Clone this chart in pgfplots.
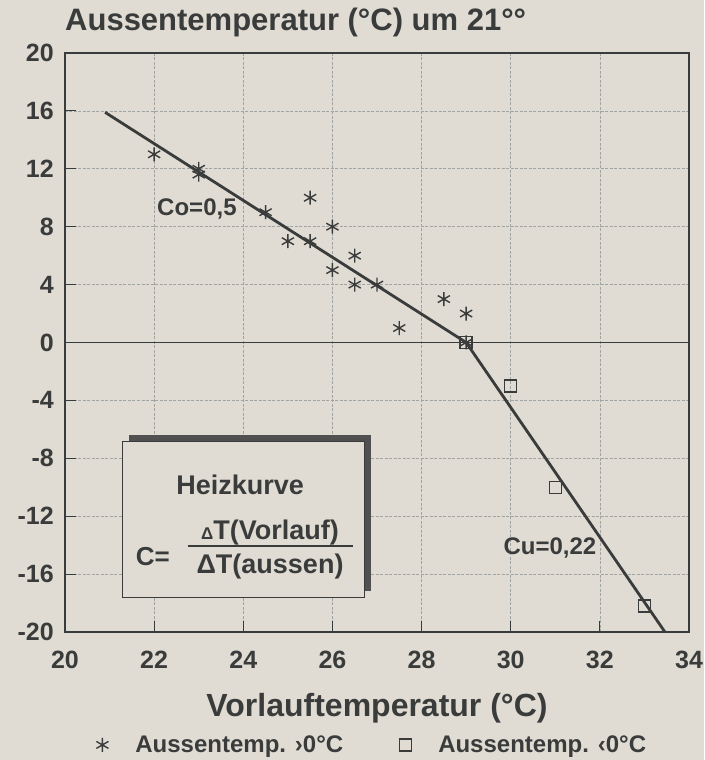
\documentclass[border=0pt]{standalone}
\usepackage{fontspec}
\setmainfont{Liberation Sans}
\usepackage{pgfplots}
\pgfplotsset{compat=1.18}
\definecolor{paper}{RGB}{224,220,211}
\definecolor{ink}{RGB}{58,60,60}
\definecolor{gridc}{RGB}{160,164,162}
\definecolor{shadowc}{RGB}{80,80,80}
\begin{document}
\bfseries
\begin{tikzpicture}
\path[use as bounding box, fill=paper] (-65pt,-128pt) rectangle (639pt,632pt);
\begin{axis}[
  at={(0,0)}, anchor=south west,
  scale only axis, width=624pt, height=579pt,
  xmin=20, xmax=34, ymin=-20, ymax=20,
  xtick={20,22,...,34}, ytick={-20,-16,...,20},
  xticklabels={20,22,24,26,28,30,32,34},
  yticklabels={-20,-16,-12,-8,-4,0,4,8,12,16,20},
  /pgf/number format/assume math mode=true,
  axis line style={draw=ink, line width=1.5pt},
  tick style={draw=ink, line width=1pt},
  tick align=inside, major tick length=11pt,
  xtick pos=bottom, ytick pos=left,
  grid=major,
  major grid style={draw=gridc, line width=0.6pt, dash pattern=on 3pt off 1.5pt},
  xticklabel style={anchor=center, yshift=-28pt, font=\fontsize{25}{25}\selectfont\bfseries, text=ink},
  yticklabel style={anchor=east, inner sep=0pt, xshift=-11pt, font=\fontsize{25}{25}\selectfont\bfseries, text=ink},
  title={Aussentemperatur (°C) um 21°°},
  title style={at={(0,1)}, anchor=base west, yshift=16pt, inner sep=0pt, font=\fontsize{31}{31}\selectfont\bfseries, text=ink},
  xlabel={Vorlauftemperatur (°C)},
  xlabel style={at={(axis description cs:0.5,0)}, anchor=center, yshift=-76pt, font=\fontsize{32}{32}\selectfont\bfseries, text=ink},
  legend style={at={(0.494,-0.195)}, anchor=center, draw=none, fill=none,
    font=\fontsize{24}{24}\selectfont\bfseries, text=ink,
    legend columns=2, /tikz/every even column/.append style={column sep=50pt},
    nodes={inner sep=5pt}},
  legend cell align=left,
  legend image code/.code={\path[draw=none,fill=none] (-7pt,-5pt) rectangle (28pt,5pt); \draw[#1] plot coordinates {(0pt,0pt)};},
]
\addplot[ink, line width=1.3pt, forget plot] coordinates {(20,0) (34,0)};
\addplot[ink, line width=2.8pt, forget plot] coordinates {(20.9,15.9) (29,0) (33.46,-20)};

\addplot[only marks, mark=asterisk, mark size=7pt, draw=ink, mark options={line width=1.4pt}] coordinates {
  (22,13) (23,12) (23,11.6) (24.5,9) (25,7) (25.5,10) (25.5,7) (26,8) (26,5)
  (26.5,6) (26.5,4) (27,4) (27.5,1) (28.5,3) (29,2) (29,0)
};
\addlegendentry{Aussentemp. ›0°C}
\addplot[only marks, mark=square, mark size=6pt, draw=ink, mark options={line width=1.4pt}] coordinates {
  (29,0) (30,-3) (31,-10) (33,-18.2)
};
\addlegendentry{Aussentemp. ‹0°C}

\node[font=\fontsize{24}{24}\selectfont\bfseries, text=ink] at (axis cs:22.96,9.22) {Co=0,5};
\node[font=\fontsize{24}{24}\selectfont\bfseries, text=ink] at (axis cs:30.88,-14.2) {Cu=0,22};

\fill[shadowc] (axis cs:21.43,-6.39) rectangle (axis cs:26.87,-17.17);
\filldraw[fill=paper, draw=ink, line width=1pt] (axis cs:21.30,-6.87) rectangle (axis cs:26.73,-17.65);
\node[font=\fontsize{27}{27}\selectfont\bfseries, text=ink] at (axis cs:23.93,-9.84) {Heizkurve};
\node[font=\fontsize{26}{26}\selectfont\bfseries, text=ink] at (axis cs:21.97,-14.82) {C=};
\node[font=\fontsize{27}{27}\selectfont\bfseries, text=ink] at (axis cs:24.6,-13.16) {{\fontsize{17}{17}\selectfont Δ}T(Vorlauf)};
\draw[ink, line width=2.5pt] (axis cs:22.76,-14.06) -- (axis cs:26.46,-14.06);
\node[font=\fontsize{27}{27}\selectfont\bfseries, text=ink] at (axis cs:24.6,-15.51) {ΔT(aussen)};
\end{axis}
\end{tikzpicture}
\end{document}
